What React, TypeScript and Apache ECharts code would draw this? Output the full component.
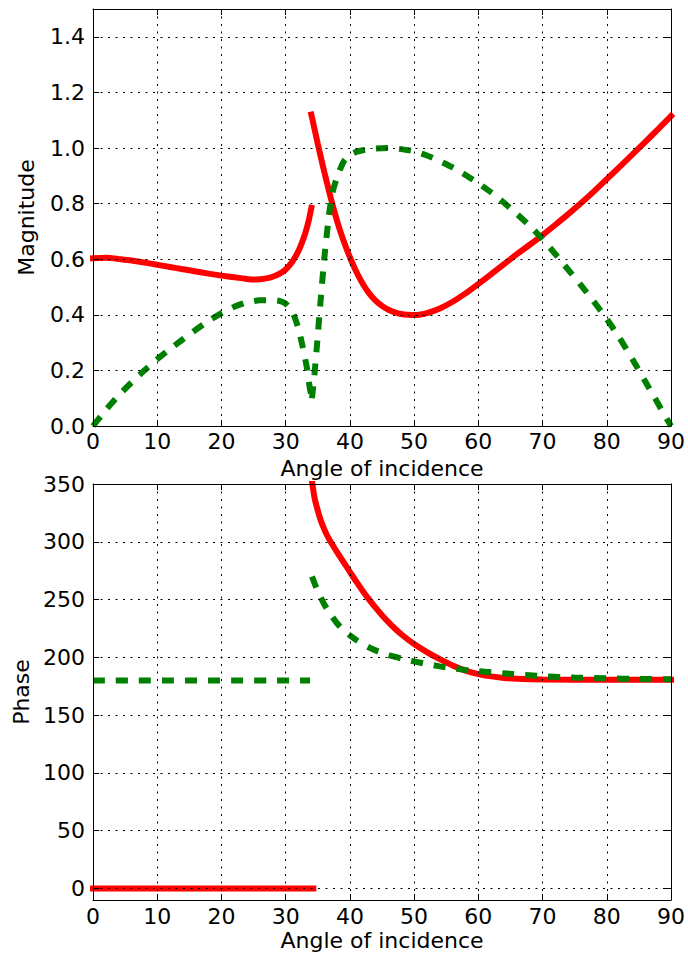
import React, { useEffect, useRef } from "react";
import * as echarts from "echarts";

// ---- Data ----
const angleTicks = [0, 10, 20, 30, 40, 50, 60, 70, 80, 90];
const magnitudeTicks = [0.0, 0.2, 0.4, 0.6, 0.8, 1.0, 1.2, 1.4];
const phaseTicks = [0, 50, 100, 150, 200, 250, 300, 350];

// Magnitude, red solid curve (before / after the critical angle)
const redMagBefore: [number, number][] = [
  [0, 0.603], [2, 0.605], [4, 0.601], [6, 0.595], [8, 0.588], [10, 0.58],
  [12, 0.572], [14, 0.564], [16, 0.556], [18, 0.548], [20, 0.541], [22, 0.535],
  [24, 0.529], [25, 0.527], [26, 0.528], [27, 0.531], [28, 0.537], [29, 0.547],
  [30, 0.563], [31, 0.59], [32, 0.63], [33, 0.69], [33.6, 0.74], [34.0, 0.785],
];
const redMagAfter: [number, number][] = [
  [34.0, 1.12], [35, 1.015], [36, 0.915], [37, 0.822], [38, 0.738], [39, 0.667],
  [40, 0.607], [41, 0.555], [42, 0.512], [43, 0.477], [44, 0.451], [45, 0.432],
  [46, 0.418], [47, 0.409], [48, 0.403], [49, 0.4], [50, 0.399], [51, 0.401],
  [52, 0.406], [54, 0.423], [56, 0.447], [58, 0.477], [60, 0.511], [62, 0.546],
  [64, 0.582], [66, 0.618], [68, 0.652], [70, 0.687], [72, 0.724], [74, 0.762],
  [76, 0.802], [78, 0.844], [80, 0.888], [82, 0.932], [84, 0.977], [86, 1.022],
  [88, 1.068], [90, 1.115],
];

// Magnitude, green dashed curve (down to the cusp / after it)
const greenMagBefore: [number, number][] = [
  [0, 0], [2, 0.058], [4, 0.11], [6, 0.157], [8, 0.2], [10, 0.24], [12, 0.277],
  [14, 0.312], [16, 0.346], [18, 0.378], [20, 0.406], [22, 0.429], [24, 0.445],
  [26, 0.452], [28, 0.453], [29, 0.45], [30, 0.44], [31, 0.413], [31.5, 0.385],
  [32, 0.35], [32.6, 0.29], [33.3, 0.21], [33.8, 0.13], [34.1, 0.1],
];
const greenMagAfter: [number, number][] = [
  [34.1, 0.1], [34.5, 0.19], [34.8, 0.27], [35.4, 0.44], [36, 0.6], [36.8, 0.77],
  [37.3, 0.84], [38, 0.895], [39, 0.95], [40, 0.975], [41, 0.986], [42, 0.992],
  [44, 0.998], [46, 1.0], [48, 0.996], [50, 0.988], [52, 0.973], [54, 0.953],
  [56, 0.93], [58, 0.903], [60, 0.873], [62, 0.84], [64, 0.803], [66, 0.763],
  [68, 0.72], [70, 0.672], [72, 0.618], [74, 0.562], [76, 0.506], [78, 0.447],
  [80, 0.385], [82, 0.316], [84, 0.24], [86, 0.16], [88, 0.08], [90, 0],
];

// Phase, red solid curve
const redPhaseBefore: [number, number][] = [[0, 0], [34.3, 0]];
const redPhaseAfter: [number, number][] = [
  [34.1, 352], [34.5, 338], [35, 327], [35.5, 318], [36, 311], [36.5, 305],
  [37, 300], [37.5, 295.5], [38, 291], [39, 282.5], [40, 274], [41, 265.5],
  [42, 257.5], [43, 250], [44, 243], [45, 236.5], [46, 230.5], [47, 225],
  [48, 220], [50, 211.5], [52, 204.5], [54, 198.5], [56, 193], [58, 188.5],
  [60, 185.5], [62, 183.5], [64, 182.2], [66, 181.4], [70, 180.8], [80, 180.6],
  [90, 180.5],
];

// Phase, green dashed curve
const greenPhaseBefore: [number, number][] = [[0, 180], [33.8, 180]];
const greenPhaseAfter: [number, number][] = [
  [34.1, 270], [35, 257], [36, 246], [37, 237], [38, 229.5], [39, 223.5],
  [40, 219], [41, 215], [42, 211.5], [43, 208.5], [44, 206], [45, 204], [46, 202],
  [47, 200.5], [48, 199], [50, 196.5], [52, 194.2], [54, 192.2], [56, 190.5],
  [58, 189.1], [60, 188], [62, 187], [65, 185.7], [68, 184.5], [70, 183.7],
  [75, 182.5], [80, 181.8], [85, 181.3], [90, 181],
];

// ---- Styling ----
const FONT = "DejaVu Sans";
const FS = 22;
const BLACK = "#000000";
const RED = "#ff0000";
const GREEN = "#008000";

const textStyle = { fontFamily: FONT, fontSize: FS, color: BLACK };
const gridLine = { show: true, lineStyle: { color: BLACK, width: 1, type: [2, 5.5] } };
const frameLine = { show: true, onZero: false, lineStyle: { color: BLACK, width: 1 } };
const inTick = { show: true, inside: true, length: 6, lineStyle: { color: BLACK, width: 1 } };

function xAxes(gridIndex: number, nameGap: number, labelMargin: number) {
  const base = {
    gridIndex,
    type: "value",
    min: angleTicks[0],
    max: angleTicks[angleTicks.length - 1],
    interval: angleTicks[1] - angleTicks[0],
    axisLine: frameLine,
    axisTick: inTick,
    z: 3,
  };
  return [
    {
      ...base,
      position: "bottom",
      name: "Angle of incidence",
      nameLocation: "middle",
      nameGap,
      nameTextStyle: textStyle,
      axisLabel: { ...textStyle, margin: labelMargin },
      splitLine: gridLine,
    },
    {
      ...base,
      position: "top",
      axisLabel: { show: false },
      splitLine: { show: false },
    },
  ];
}

export default function App() {
  const ref = useRef<HTMLDivElement>(null);

  useEffect(() => {
    document.body.style.margin = "0";
    const chart = echarts.init(ref.current!, null, { renderer: "svg" });

    const magBase = {
      gridIndex: 0,
      type: "value",
      min: magnitudeTicks[0],
      max: 1.5,
      interval: magnitudeTicks[1] - magnitudeTicks[0],
      axisLine: frameLine,
      axisTick: inTick,
      z: 3,
    };
    const phaseBase = {
      gridIndex: 1,
      type: "value",
      min: -10,
      max: phaseTicks[phaseTicks.length - 1],
      splitNumber: phaseTicks.length - 1,
      axisLine: frameLine,
      axisTick: inTick,
      z: 3,
    };

    const line = (
      xi: number,
      yi: number,
      data: [number, number][],
      color: string,
      dashed: boolean
    ) => ({
      type: "line",
      xAxisIndex: xi,
      yAxisIndex: yi,
      data,
      symbol: "none",
      showSymbol: false,
      smooth: 0.2,
      silent: true,
      z: 2,
      lineStyle: {
        color,
        width: 6,
        type: dashed ? [12, 11] : "solid",
        cap: dashed ? "butt" : "square",
      },
    });

    chart.setOption({
      animation: false,
      backgroundColor: "#ffffff",
      textStyle: { fontFamily: FONT },
      grid: [
        { left: 93, top: 9, width: 581, height: 417 },
        { left: 93, top: 484, width: 581, height: 416 },
      ],
      xAxis: [...xAxes(0, 31, 4), ...xAxes(1, 29, 5)],
      yAxis: [
        {
          ...magBase,
          position: "left",
          name: "Magnitude",
          nameLocation: "middle",
          nameGap: 56,
          nameTextStyle: textStyle,
          axisLabel: {
            ...textStyle,
            margin: 8,
            showMaxLabel: false,
            formatter: (v: number) => v.toFixed(1),
          },
          splitLine: gridLine,
        },
        { ...magBase, position: "right", axisLabel: { show: false }, splitLine: { show: false } },
        {
          ...phaseBase,
          position: "left",
          name: "Phase",
          nameLocation: "middle",
          nameGap: 58,
          nameTextStyle: textStyle,
          axisLabel: { ...textStyle, margin: 8, showMinLabel: false },
          splitLine: gridLine,
        },
        { ...phaseBase, position: "right", axisLabel: { show: false }, splitLine: { show: false } },
      ],
      series: [
        line(0, 0, redMagBefore, RED, false),
        line(0, 0, redMagAfter, RED, false),
        line(0, 0, greenMagBefore, GREEN, true),
        line(0, 0, greenMagAfter, GREEN, true),
        line(2, 2, redPhaseBefore, RED, false),
        line(2, 2, redPhaseAfter, RED, false),
        line(2, 2, greenPhaseBefore, GREEN, true),
        line(2, 2, greenPhaseAfter, GREEN, true),
      ],
    });

    return () => chart.dispose();
  }, []);

  return <div ref={ref} style={{ width: 688, height: 956 }} />;
}
